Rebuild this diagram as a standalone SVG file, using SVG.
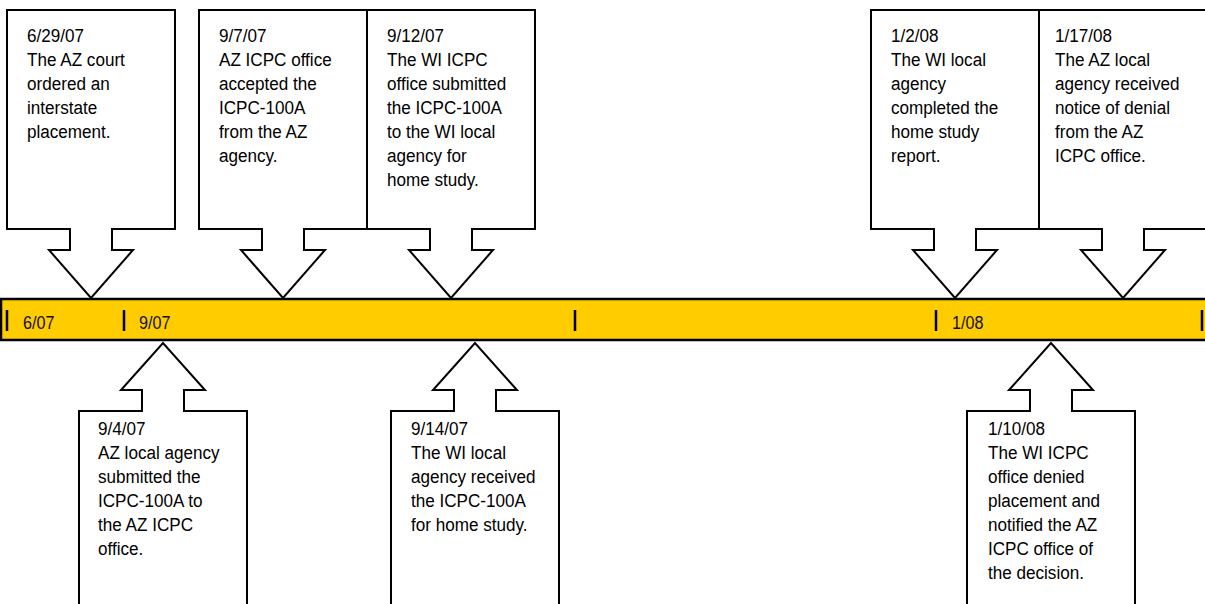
<svg xmlns="http://www.w3.org/2000/svg" width="1205" height="604" viewBox="0 0 1205 604">
<style>
.co{fill:#fff;stroke:#000;stroke-width:2;stroke-linejoin:miter}
.t{font-family:"Liberation Sans",Arial,sans-serif;font-size:19px;fill:#000}
.tk{stroke:#000;stroke-width:2.5}
.lb{font-family:"Liberation Sans",Arial,sans-serif;font-size:19px;fill:#111}
</style>
<rect width="1205" height="604" fill="#fff"/>
<g id="timeline">
<rect x="1" y="299" width="1215" height="41" fill="#FFCC00" stroke="#000" stroke-width="2.5"/>
<line class="tk" x1="7" y1="310" x2="7" y2="331"/>
<line class="tk" x1="124" y1="310" x2="124" y2="331"/>
<line class="tk" x1="575" y1="310" x2="575" y2="331"/>
<line class="tk" x1="936" y1="310" x2="936" y2="331"/>
<line class="tk" x1="1202" y1="310" x2="1202" y2="331"/>
<text class="lb" transform="translate(23,329) scale(0.85,1)">6/07</text>
<text class="lb" transform="translate(139,329) scale(0.85,1)">9/07</text>
<text class="lb" transform="translate(952,329) scale(0.85,1)">1/08</text>
</g>
<g id="connectors"></g>
<g id="e1">
<path class="co" d="M7,10 H175 V229 H112 V250 H133 L91,298 L49,250 H70 V229 H7 Z"/>
<text class="t" transform="translate(27,42) scale(0.9,1)"><tspan x="0">6/29/07</tspan><tspan x="0" dy="24">The AZ court</tspan><tspan x="0" dy="24">ordered an</tspan><tspan x="0" dy="24">interstate</tspan><tspan x="0" dy="24">placement.</tspan></text>
</g>
<g id="e2">
<path class="co" d="M199,10 H367 V229 H304 V250 H325 L283,298 L241,250 H262 V229 H199 Z"/>
<text class="t" transform="translate(219,42) scale(0.9,1)"><tspan x="0">9/7/07</tspan><tspan x="0" dy="24">AZ ICPC office</tspan><tspan x="0" dy="24">accepted the</tspan><tspan x="0" dy="24">ICPC-100A</tspan><tspan x="0" dy="24">from the AZ</tspan><tspan x="0" dy="24">agency.</tspan></text>
</g>
<g id="e3">
<path class="co" d="M367,10 H535 V229 H472 V250 H493 L451,298 L409,250 H430 V229 H367 Z"/>
<text class="t" transform="translate(387,42) scale(0.9,1)"><tspan x="0">9/12/07</tspan><tspan x="0" dy="24">The WI ICPC</tspan><tspan x="0" dy="24">office submitted</tspan><tspan x="0" dy="24">the ICPC-100A</tspan><tspan x="0" dy="24">to the WI local</tspan><tspan x="0" dy="24">agency for</tspan><tspan x="0" dy="24">home study.</tspan></text>
</g>
<g id="e4">
<path class="co" d="M871,10 H1039 V229 H976 V250 H997 L955,298 L913,250 H934 V229 H871 Z"/>
<text class="t" transform="translate(891,42) scale(0.9,1)"><tspan x="0">1/2/08</tspan><tspan x="0" dy="24">The WI local</tspan><tspan x="0" dy="24">agency</tspan><tspan x="0" dy="24">completed the</tspan><tspan x="0" dy="24">home study</tspan><tspan x="0" dy="24">report.</tspan></text>
</g>
<g id="e5">
<path class="co" d="M1039,10 H1208 V229 H1144 V250 H1165 L1123,298 L1081,250 H1102 V229 H1039 Z"/>
<text class="t" transform="translate(1055,42) scale(0.9,1)"><tspan x="0">1/17/08</tspan><tspan x="0" dy="24">The AZ local</tspan><tspan x="0" dy="24">agency received</tspan><tspan x="0" dy="24">notice of denial</tspan><tspan x="0" dy="24">from the AZ</tspan><tspan x="0" dy="24">ICPC office.</tspan></text>
</g>
<g id="e6">
<path class="co" d="M79,620 V411 H142 V390 H121 L163,343 L205,390 H184 V411 H247 V620 Z"/>
<text class="t" transform="translate(98,435) scale(0.9,1)"><tspan x="0">9/4/07</tspan><tspan x="0" dy="24">AZ local agency</tspan><tspan x="0" dy="24">submitted the</tspan><tspan x="0" dy="24">ICPC-100A to</tspan><tspan x="0" dy="24">the AZ ICPC</tspan><tspan x="0" dy="24">office.</tspan></text>
</g>
<g id="e7">
<path class="co" d="M391,620 V411 H454 V390 H433 L475,343 L517,390 H496 V411 H559 V620 Z"/>
<text class="t" transform="translate(411,435) scale(0.9,1)"><tspan x="0">9/14/07</tspan><tspan x="0" dy="24">The WI local</tspan><tspan x="0" dy="24">agency received</tspan><tspan x="0" dy="24">the ICPC-100A</tspan><tspan x="0" dy="24">for home study.</tspan></text>
</g>
<g id="e8">
<path class="co" d="M967,620 V411 H1030 V390 H1009 L1051,343 L1093,390 H1072 V411 H1135 V620 Z"/>
<text class="t" transform="translate(988,435) scale(0.9,1)"><tspan x="0">1/10/08</tspan><tspan x="0" dy="24">The WI ICPC</tspan><tspan x="0" dy="24">office denied</tspan><tspan x="0" dy="24">placement and</tspan><tspan x="0" dy="24">notified the AZ</tspan><tspan x="0" dy="24">ICPC office of</tspan><tspan x="0" dy="24">the decision.</tspan></text>
</g>
</svg>
